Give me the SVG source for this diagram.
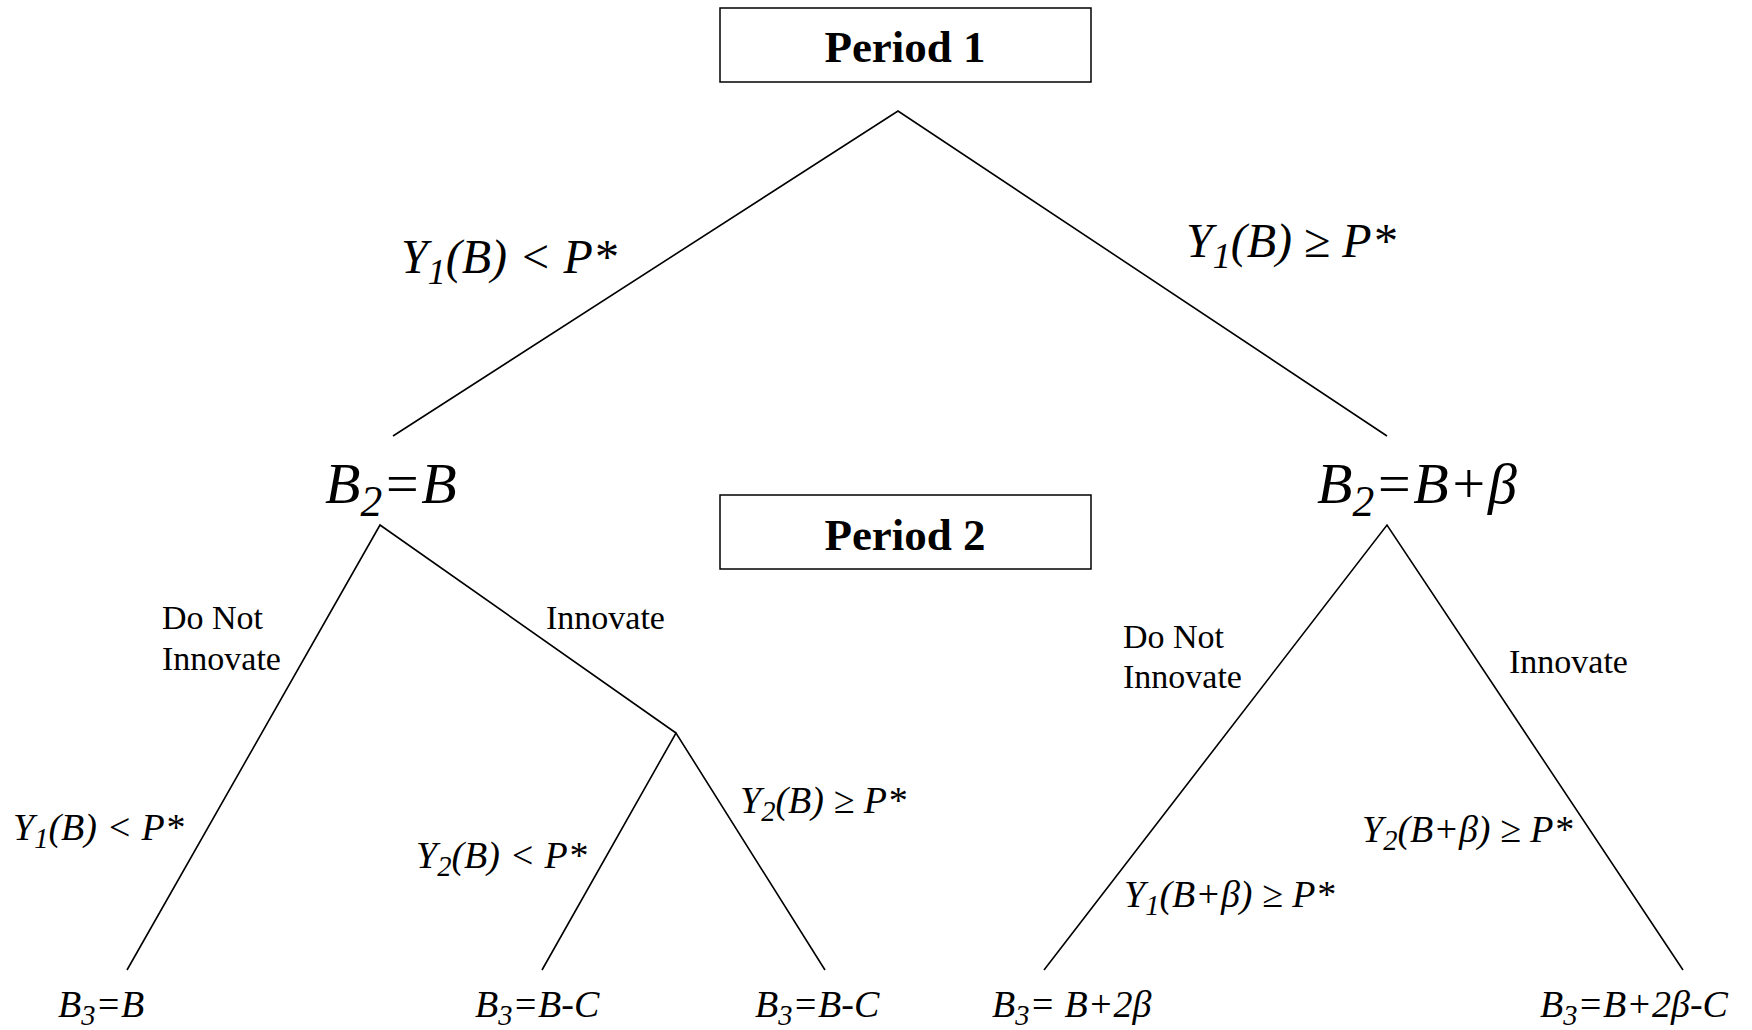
<svg xmlns="http://www.w3.org/2000/svg" width="1752" height="1030" viewBox="0 0 1752 1030">
<style>
.box{fill:#fff;stroke:#000;stroke-width:1.5}
.title{font-family:"Liberation Serif",serif;font-weight:bold;font-size:45px;text-anchor:middle}
.edge{stroke:#000;stroke-width:1.6;fill:none}
.lbl{font-family:"Liberation Serif",serif;font-size:34px}
.m1{font-family:"Liberation Serif",serif;font-style:italic;font-size:48px}
.m2{font-family:"Liberation Serif",serif;font-style:italic;font-size:58px}
.m3{font-family:"Liberation Serif",serif;font-style:italic;font-size:38px}
.sub{font-size:0.75em}
</style>
<rect width="1752" height="1030" fill="#fff"/>
<g id="period1"><rect class="box" x="720" y="8" width="371" height="74"/><text class="title" x="905" y="62">Period 1</text></g>
<g id="period2"><rect class="box" x="720" y="495" width="371" height="74"/><text class="title" x="905" y="550">Period 2</text></g>
<g id="connectors">
<polyline class="edge" points="393,436 898,111 1387,436"/>
<polyline class="edge" points="127,970 380,525 676,733"/>
<polyline class="edge" points="542,970 676,733 825,970"/>
<polyline class="edge" points="1044,970 1387,525 1683,970"/>
</g>
<g id="edge-labels">
<text class="m1" x="401" y="273">Y<tspan class="sub" dy="11">1</tspan><tspan dy="-11">(B) &lt; P*</tspan></text>
<text class="m1" x="1186" y="257">Y<tspan class="sub" dy="11">1</tspan><tspan dy="-11">(B) ≥ P*</tspan></text>
<text class="lbl" x="162" y="629">Do Not</text>
<text class="lbl" x="162" y="670">Innovate</text>
<text class="lbl" x="546" y="629">Innovate</text>
<text class="lbl" x="1123" y="648">Do Not</text>
<text class="lbl" x="1123" y="688">Innovate</text>
<text class="lbl" x="1509" y="673">Innovate</text>
<text class="m3" x="13" y="840">Y<tspan class="sub" dy="8">1</tspan><tspan dy="-8">(B) &lt; P*</tspan></text>
<text class="m3" x="416" y="868">Y<tspan class="sub" dy="8">2</tspan><tspan dy="-8">(B) &lt; P*</tspan></text>
<text class="m3" x="740" y="813">Y<tspan class="sub" dy="8">2</tspan><tspan dy="-8">(B) ≥ P*</tspan></text>
<text class="m3" x="1362" y="842">Y<tspan class="sub" dy="8">2</tspan><tspan dy="-8">(B+β) ≥ P*</tspan></text>
<text class="m3" x="1124" y="907">Y<tspan class="sub" dy="8">1</tspan><tspan dy="-8">(B+β) ≥ P*</tspan></text>
</g>
<g id="node-b2-left"><text class="m2" x="325" y="503">B<tspan class="sub" dy="13">2</tspan><tspan dy="-13">=B</tspan></text></g>
<g id="node-b2-right"><text class="m2" x="1317" y="503">B<tspan class="sub" dy="13">2</tspan><tspan dy="-13">=B+β</tspan></text></g>
<g id="leaf1"><text class="m3" x="58" y="1017">B<tspan class="sub" dy="8">3</tspan><tspan dy="-8">=B</tspan></text></g>
<g id="leaf2"><text class="m3" x="475" y="1017">B<tspan class="sub" dy="8">3</tspan><tspan dy="-8">=B-C</tspan></text></g>
<g id="leaf3"><text class="m3" x="755" y="1017">B<tspan class="sub" dy="8">3</tspan><tspan dy="-8">=B-C</tspan></text></g>
<g id="leaf4"><text class="m3" x="992" y="1017">B<tspan class="sub" dy="8">3</tspan><tspan dy="-8">= B+2β</tspan></text></g>
<g id="leaf5"><text class="m3" x="1540" y="1017">B<tspan class="sub" dy="8">3</tspan><tspan dy="-8">=B+2β-C</tspan></text></g>
</svg>
